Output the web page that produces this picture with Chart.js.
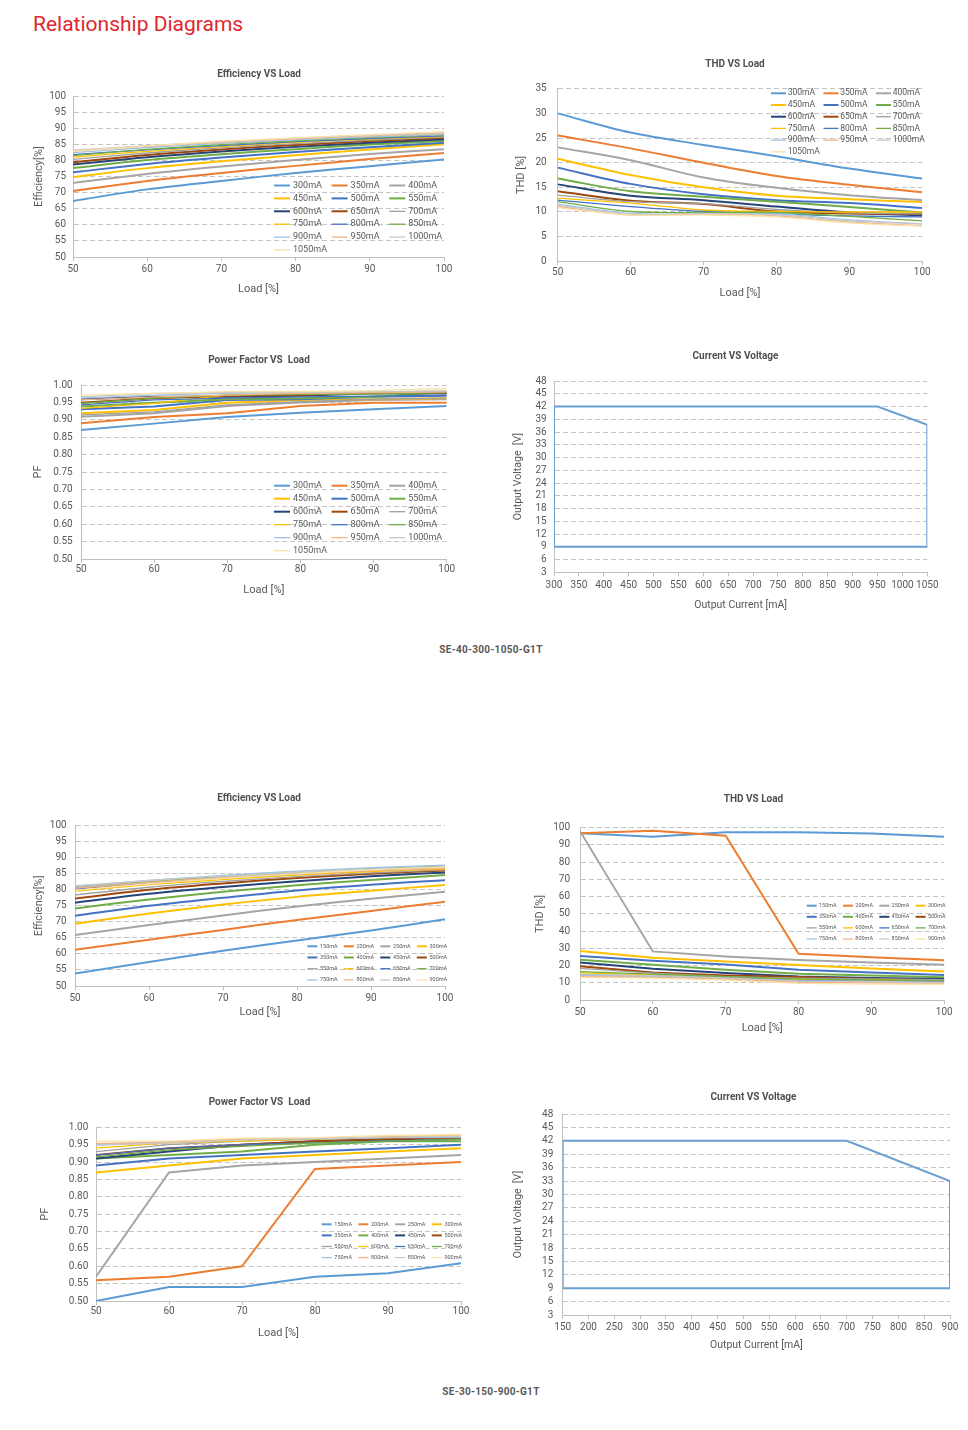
<!DOCTYPE html>
<html>
<head>
<meta charset="utf-8">
<script src="https://cdn.jsdelivr.net/npm/chart.js@4.4.1/dist/chart.umd.min.js"></script>
<style>
  html, body { margin: 0; padding: 0; background: #fff; overflow: hidden; }
  body { width: 968px; height: 1430px; position: relative; font-family: Roboto, sans-serif; }
  canvas { position: absolute; }
  .head { position: absolute; left: 33px; top: 12px; color: #E1262D; font-size: 21px; line-height: 24px; }
  .model { position: absolute; width: 200px; text-align: center; font-weight: bold; font-size: 10px;
           line-height: 12px; color: #595959; letter-spacing: 0.3px; }
</style>
</head>
<body>
<div class="head">Relationship Diagrams</div>
<div class="model" style="left:391px; top:644px">SE-40-300-1050-G1T</div>
<div class="model" style="left:391px; top:1386px">SE-30-150-900-G1T</div>

<canvas id="effA"></canvas>
<canvas id="thdA"></canvas>
<canvas id="pfA"></canvas>
<canvas id="cvA"></canvas>
<canvas id="effB"></canvas>
<canvas id="thdB"></canvas>
<canvas id="pfB"></canvas>
<canvas id="cvB"></canvas>

<script>
// ---- data ----
var loads = [50, 60, 70, 80, 90, 100];

var currentsA = ['300mA', '350mA', '400mA', '450mA', '500mA', '550mA', '600mA', '650mA',
                 '700mA', '750mA', '800mA', '850mA', '900mA', '950mA', '1000mA', '1050mA'];
var currentsB = ['150mA', '200mA', '250mA', '300mA', '350mA', '400mA', '450mA', '500mA',
                 '550mA', '600mA', '650mA', '700mA', '750mA', '800mA', '850mA', '900mA'];

// efficiency [%], SE-40-300-1050-G1T
var effA = [
  [67.4, 71.0, 73.6, 76.1, 78.2, 80.3],
  [70.5, 73.6, 76.1, 78.3, 80.4, 82.3],
  [73.0, 75.8, 78.1, 80.1, 82.0, 83.5],
  [74.8, 77.6, 79.7, 81.6, 83.4, 85.0],
  [76.3, 78.9, 80.9, 82.6, 84.1, 85.5],
  [77.6, 80.1, 81.9, 83.5, 84.9, 86.1],
  [78.7, 81.0, 82.8, 84.2, 85.5, 86.6],
  [79.4, 81.7, 83.4, 84.8, 86.0, 87.0],
  [80.3, 82.3, 83.9, 85.2, 86.3, 87.2],
  [81.0, 82.8, 84.3, 85.6, 86.6, 87.5],
  [81.8, 83.3, 84.6, 85.8, 86.8, 87.6],
  [81.5, 83.4, 84.9, 86.1, 87.1, 88.0],
  [82.4, 84.0, 85.3, 86.4, 87.3, 88.1],
  [82.9, 84.4, 85.6, 86.7, 87.6, 88.4],
  [83.2, 84.6, 85.8, 86.9, 87.8, 88.6],
  [82.8, 84.5, 85.9, 87.0, 88.0, 88.9]
];

// THD [%], SE-40-300-1050-G1T
var thdA = [
  [30.0, 26.1, 23.6, 21.3, 18.8, 16.8],
  [25.5, 22.9, 20.0, 17.3, 15.5, 14.0],
  [23.1, 20.5, 17.0, 14.9, 13.4, 12.4],
  [20.8, 17.5, 15.0, 13.3, 12.6, 12.0],
  [19.0, 15.7, 13.6, 12.4, 11.8, 10.8],
  [16.8, 14.2, 13.1, 12.1, 11.0, 9.9],
  [15.6, 13.3, 12.4, 11.1, 9.9, 9.3],
  [14.2, 12.3, 11.6, 10.1, 9.7, 9.6],
  [13.4, 12.1, 11.7, 10.5, 9.8, 9.6],
  [12.8, 11.8, 10.4, 10.1, 10.0, 10.0],
  [12.4, 11.1, 10.1, 9.6, 9.2, 9.0],
  [12.1, 10.1, 9.9, 9.9, 9.1, 8.2],
  [11.6, 9.7, 9.6, 9.6, 8.4, 7.6],
  [11.1, 9.4, 9.6, 9.2, 8.0, 7.2],
  [11.4, 9.5, 9.7, 9.4, 8.2, 7.6],
  [10.9, 9.4, 9.4, 9.0, 7.8, 7.1]
];

// power factor, SE-40-300-1050-G1T
var pfA = [
  [0.871, 0.889, 0.908, 0.920, 0.930, 0.940],
  [0.890, 0.908, 0.919, 0.940, 0.949, 0.949],
  [0.909, 0.919, 0.940, 0.950, 0.957, 0.959],
  [0.919, 0.928, 0.949, 0.957, 0.959, 0.962],
  [0.930, 0.938, 0.957, 0.959, 0.966, 0.969],
  [0.938, 0.949, 0.959, 0.962, 0.966, 0.979],
  [0.959, 0.966, 0.966, 0.969, 0.976, 0.976],
  [0.949, 0.962, 0.969, 0.971, 0.978, 0.978],
  [0.914, 0.923, 0.943, 0.952, 0.959, 0.962],
  [0.933, 0.947, 0.971, 0.976, 0.978, 0.981],
  [0.943, 0.957, 0.962, 0.966, 0.968, 0.971],
  [0.947, 0.962, 0.971, 0.973, 0.974, 0.978],
  [0.962, 0.971, 0.976, 0.978, 0.979, 0.981],
  [0.957, 0.966, 0.971, 0.976, 0.978, 0.980],
  [0.966, 0.976, 0.978, 0.979, 0.981, 0.984],
  [0.971, 0.976, 0.981, 0.981, 0.984, 0.990]
];

// operating window, SE-40-300-1050-G1T
var cvA_current = [300, 300, 950, 1050, 1050, 300];
var cvA_voltage = [9, 42, 42, 37.7, 9, 9];

// efficiency [%], SE-30-150-900-G1T
var effB = [
  [53.9, 57.5, 61.0, 64.2, 67.3, 70.8],
  [61.3, 64.4, 67.5, 70.6, 73.4, 76.3],
  [65.9, 69.0, 72.0, 74.8, 77.2, 79.4],
  [69.4, 72.6, 75.4, 77.8, 79.7, 81.5],
  [71.9, 75.0, 77.5, 79.8, 81.6, 83.0],
  [74.2, 77.0, 79.4, 81.4, 83.1, 84.6],
  [76.0, 78.8, 80.9, 82.7, 84.2, 85.4],
  [77.3, 80.0, 82.0, 83.7, 85.0, 86.0],
  [78.4, 80.8, 82.6, 84.1, 85.3, 86.2],
  [79.6, 81.6, 83.2, 84.6, 85.7, 86.5],
  [80.2, 82.1, 83.7, 85.0, 86.1, 86.9],
  [80.7, 82.6, 84.2, 85.5, 86.6, 87.4],
  [81.0, 82.9, 84.5, 85.8, 86.9, 87.7],
  [80.5, 82.3, 83.8, 85.0, 86.0, 86.7],
  [81.3, 82.9, 84.3, 85.5, 86.5, 87.2],
  [79.9, 81.9, 83.6, 85.0, 86.2, 87.1]
];

// THD [%], SE-30-150-900-G1T
var thdB = [
  [96.8, 94.8, 97.3, 97.4, 96.6, 94.8],
  [96.8, 98.2, 95.3, 26.8, 24.8, 23.0],
  [98.0, 28.2, 25.3, 23.2, 21.8, 20.4],
  [28.5, 24.5, 22.3, 20.3, 18.3, 16.6],
  [25.5, 22.8, 20.6, 17.6, 16.0, 14.5],
  [23.3, 20.4, 17.6, 15.2, 14.2, 13.2],
  [21.8, 18.2, 15.7, 13.6, 12.8, 12.2],
  [19.6, 16.0, 14.2, 13.3, 12.2, 11.3],
  [18.4, 15.6, 13.6, 12.7, 12.3, 11.8],
  [15.7, 14.6, 13.2, 12.0, 11.6, 11.1],
  [14.6, 14.0, 13.0, 11.2, 11.0, 10.6],
  [16.5, 15.0, 13.6, 12.3, 11.7, 11.1],
  [14.0, 13.6, 12.6, 11.0, 10.6, 10.1],
  [13.6, 13.1, 12.1, 10.4, 10.0, 9.7],
  [14.6, 14.2, 12.8, 11.0, 10.6, 10.2],
  [13.1, 12.7, 11.5, 9.6, 9.2, 9.1]
];

// power factor, SE-30-150-900-G1T
var pfB = [
  [0.500, 0.540, 0.540, 0.570, 0.580, 0.609],
  [0.560, 0.570, 0.600, 0.880, 0.890, 0.900],
  [0.570, 0.870, 0.890, 0.900, 0.910, 0.920],
  [0.870, 0.890, 0.910, 0.920, 0.930, 0.940],
  [0.890, 0.910, 0.920, 0.930, 0.940, 0.950],
  [0.910, 0.920, 0.930, 0.950, 0.960, 0.960],
  [0.910, 0.930, 0.950, 0.960, 0.965, 0.970],
  [0.920, 0.940, 0.950, 0.960, 0.966, 0.970],
  [0.930, 0.950, 0.960, 0.965, 0.970, 0.970],
  [0.940, 0.955, 0.960, 0.966, 0.973, 0.978],
  [0.920, 0.940, 0.950, 0.955, 0.960, 0.965],
  [0.915, 0.935, 0.945, 0.955, 0.960, 0.965],
  [0.950, 0.957, 0.965, 0.967, 0.970, 0.972],
  [0.953, 0.958, 0.966, 0.968, 0.972, 0.976],
  [0.948, 0.955, 0.964, 0.968, 0.972, 0.974],
  [0.960, 0.960, 0.969, 0.970, 0.977, 0.978]
];

// operating window, SE-30-150-900-G1T
var cvB_current = [150, 150, 700, 900, 900, 150];
var cvB_voltage = [9, 42, 42, 33, 9, 9];

// ---- styling ----
var palette = ['#5B9BD5', '#ED7D31', '#A5A5A5', '#FFC000', '#4472C4', '#70AD47', '#264478', '#9E480E',
               '#A0A0A0', '#FFC000', '#4472C4', '#70AD47', '#9DC3E6', '#F4B183', '#C9C9C9', '#FBE2A8'];
var textColor = '#595959';

Chart.defaults.font.family = 'Roboto, sans-serif';
Chart.defaults.color = textColor;

// legend drawn inside the plot, in a fixed grid like the original sheet
var gridLegend = {
  id: 'gridLegend',
  afterDatasetsDraw: function(chart, args, o) {
    if (!o || !o.cols) return;
    var ctx = chart.ctx;
    ctx.save();
    ctx.font = o.size + 'px Roboto, sans-serif';
    ctx.textBaseline = 'middle';
    ctx.fillStyle = textColor;
    chart.data.datasets.forEach(function(ds, i) {
      var x = o.x + (i % o.cols) * o.colW;
      var y = o.y + Math.floor(i / o.cols) * o.rowH;
      ctx.strokeStyle = ds.borderColor;
      ctx.lineWidth = ds.borderWidth;
      ctx.beginPath();
      ctx.moveTo(x, y);
      ctx.lineTo(x + o.len, y);
      ctx.stroke();
      ctx.fillText(ds.label, x + o.len + o.gap, y);
    });
    ctx.restore();
  }
};

function lineSets(names, rows) {
  return names.map(function(n, i) {
    return {
      label: n,
      data: loads.map(function(x, j) { return {x: x, y: rows[i][j]}; }),
      borderColor: palette[i],
      borderWidth: i < 8 ? 2 : 1.3,
      order: names.length - i
    };
  });
}

function windowSet(xs, ys) {
  return [{
    label: 'window',
    data: xs.map(function(x, j) { return {x: x, y: ys[j]}; }),
    borderColor: '#6A9FD2',
    borderWidth: 2,
    tension: 0
  }];
}

// c: canvas box (x0,y0,w,h), plot edges (l,t,r,b), text anchors (ty, yx, ylr, xly, xty)
function makeChart(c) {
  var cv = document.getElementById(c.id);
  cv.width = c.w;
  cv.height = c.h;
  cv.style.left = c.x0 + 'px';
  cv.style.top = c.y0 + 'px';

  var yw = c.l - c.x0, rw = c.x0 + c.w - c.r, xh = c.y0 + c.h - c.b;
  var tTop = c.ty - c.y0 - 6, tBot = c.t - c.y0 - tTop - 12;
  var af = c.axisFont || 11, half = af * 0.6;
  var leg = c.legend ? Object.assign({}, c.legend, {x: c.legend.x - c.x0, y: c.legend.y - c.y0}) : {};

  new Chart(cv, {
    type: 'line',
    data: {datasets: c.datasets},
    options: {
      responsive: false,
      animation: false,
      layout: {padding: 0},
      elements: {point: {radius: 0}, line: {tension: c.tension || 0}},
      plugins: {
        legend: {display: false},
        tooltip: {enabled: false},
        title: {display: true, text: c.title, color: '#505050',
                font: {size: 10, weight: 'bold'}, padding: {top: tTop, bottom: tBot}},
        gridLegend: leg
      },
      scales: {
        x: {
          type: 'linear', min: c.xMin, max: c.xMax,
          ticks: {stepSize: c.xStep, autoSkip: false, maxRotation: 0, font: {size: 10},
                  padding: c.xly - c.b - 4 - 6,
                  callback: function(v) { return String(v); }},
          grid: {drawOnChartArea: false, tickLength: 4, tickColor: '#BFBFBF'},
          border: {color: '#BFBFBF'},
          title: {display: true, text: c.xTitle, font: {size: af},
                  padding: {top: 0, bottom: c.y0 + c.h - c.xty - half}},
          afterFit: function(s) { s.height = xh; }
        },
        y: {
          min: c.yMin, max: c.yMax,
          ticks: {stepSize: c.yStep, autoSkip: false, font: {size: 10}, padding: c.l - c.ylr,
                  callback: c.yFmt || function(v) { return String(v); }},
          grid: {drawTicks: false, color: '#C4C4C4'},
          border: {color: '#BFBFBF', dash: [5, 3]},
          title: {display: true, text: c.yTitle, font: {size: af},
                  padding: {top: c.yx - c.x0 - half, bottom: 0}},
          afterFit: function(s) { s.width = yw; }
        },
        yR: {
          position: 'right', display: true,
          grid: {display: false}, border: {display: false}, ticks: {display: false},
          afterFit: function(s) { s.width = rw; }
        }
      }
    },
    plugins: [gridLegend]
  });
}

var pfFmt = function(v) { return v.toFixed(2); };

makeChart({id: 'effA', x0: 20, y0: 60, w: 478, h: 240,
  l: 73, t: 96, r: 444, b: 257, ty: 74, yx: 39, ylr: 66, xly: 269, xty: 289,
  title: 'Efficiency VS Load', xTitle: 'Load [%]', yTitle: 'Efficiency[%]',
  xMin: 50, xMax: 100, xStep: 10, yMin: 50, yMax: 100, yStep: 5, tension: 0.35,
  datasets: lineSets(currentsA, effA),
  legend: {x: 274, y: 185.5, colW: 57.6, rowH: 12.9, len: 16, gap: 3, size: 9, cols: 3}});

makeChart({id: 'thdA', x0: 512, y0: 50, w: 446, h: 255,
  l: 557.7, t: 88.7, r: 922.3, b: 261.3, ty: 64, yx: 521.7, ylr: 546.7, xly: 272, xty: 293,
  title: 'THD VS Load', xTitle: 'Load [%]', yTitle: 'THD [%]',
  xMin: 50, xMax: 100, xStep: 10, yMin: 0, yMax: 35, yStep: 5, tension: 0.35,
  datasets: lineSets(currentsA, thdA),
  legend: {x: 771, y: 93.3, colW: 52.5, rowH: 11.7, len: 15, gap: 1.7, size: 8.5, cols: 3}});

makeChart({id: 'pfA', x0: 20, y0: 345, w: 478, h: 255,
  l: 81, t: 385, r: 446.7, b: 559, ty: 360, yx: 38.3, ylr: 72.7, xly: 569, xty: 590.7,
  title: 'Power Factor VS  Load', xTitle: 'Load [%]', yTitle: 'PF',
  xMin: 50, xMax: 100, xStep: 10, yMin: 0.5, yMax: 1, yStep: 0.05, yFmt: pfFmt, tension: 0,
  datasets: lineSets(currentsA, pfA),
  legend: {x: 274, y: 485.7, colW: 57.6, rowH: 13, len: 16, gap: 3, size: 9, cols: 3}});

makeChart({id: 'cvA', x0: 508, y0: 340, w: 455, h: 275,
  l: 554, t: 381, r: 927.3, b: 572.3, ty: 356.7, yx: 518.3, ylr: 546.7, xly: 585.7, xty: 605,
  title: 'Current VS Voltage', xTitle: 'Output Current [mA]', yTitle: 'Output Voltage  [V]',
  xMin: 300, xMax: 1050, xStep: 50, yMin: 3, yMax: 48, yStep: 3, axisFont: 10.5,
  datasets: windowSet(cvA_current, cvA_voltage)});

makeChart({id: 'effB', x0: 20, y0: 785, w: 478, h: 235,
  l: 75, t: 825.7, r: 445, b: 986, ty: 798.3, yx: 39, ylr: 66.7, xly: 998.3, xty: 1012.7,
  title: 'Efficiency VS Load', xTitle: 'Load [%]', yTitle: 'Efficiency[%]',
  xMin: 50, xMax: 100, xStep: 10, yMin: 50, yMax: 100, yStep: 5, tension: 0.35,
  datasets: lineSets(currentsB, effB),
  legend: {x: 307.3, y: 946.3, colW: 36.5, rowH: 11.2, len: 10, gap: 2.7, size: 5.5, cols: 4}});

makeChart({id: 'thdB', x0: 530, y0: 785, w: 447, h: 255,
  l: 580, t: 827.7, r: 944.3, b: 1000, ty: 799, yx: 540, ylr: 570, xly: 1012.7, xty: 1028.3,
  title: 'THD VS Load', xTitle: 'Load [%]', yTitle: 'THD [%]',
  xMin: 50, xMax: 100, xStep: 10, yMin: 0, yMax: 100, yStep: 10, tension: 0,
  datasets: lineSets(currentsB, thdB),
  legend: {x: 806.7, y: 905.7, colW: 36.3, rowH: 11.1, len: 10, gap: 2.3, size: 5.5, cols: 4}});

makeChart({id: 'pfB', x0: 25, y0: 1090, w: 469, h: 255,
  l: 96, t: 1127.3, r: 461, b: 1301, ty: 1102.3, yx: 45, ylr: 88.3, xly: 1311, xty: 1333.3,
  title: 'Power Factor VS  Load', xTitle: 'Load [%]', yTitle: 'PF',
  xMin: 50, xMax: 100, xStep: 10, yMin: 0.5, yMax: 1, yStep: 0.05, yFmt: pfFmt, tension: 0,
  datasets: lineSets(currentsB, pfB),
  legend: {x: 321.7, y: 1224.3, colW: 36.7, rowH: 11.1, len: 10, gap: 2.6, size: 5.5, cols: 4}});

makeChart({id: 'cvB', x0: 508, y0: 1085, w: 491, h: 275,
  l: 562.7, t: 1114, r: 950, b: 1315, ty: 1097.3, yx: 518.3, ylr: 553.3, xly: 1327.7, xty: 1345,
  title: 'Current VS Voltage', xTitle: 'Output Current [mA]', yTitle: 'Output Voltage  [V]',
  xMin: 150, xMax: 900, xStep: 50, yMin: 3, yMax: 48, yStep: 3, axisFont: 10.5,
  datasets: windowSet(cvB_current, cvB_voltage)});
</script>
</body>
</html>
